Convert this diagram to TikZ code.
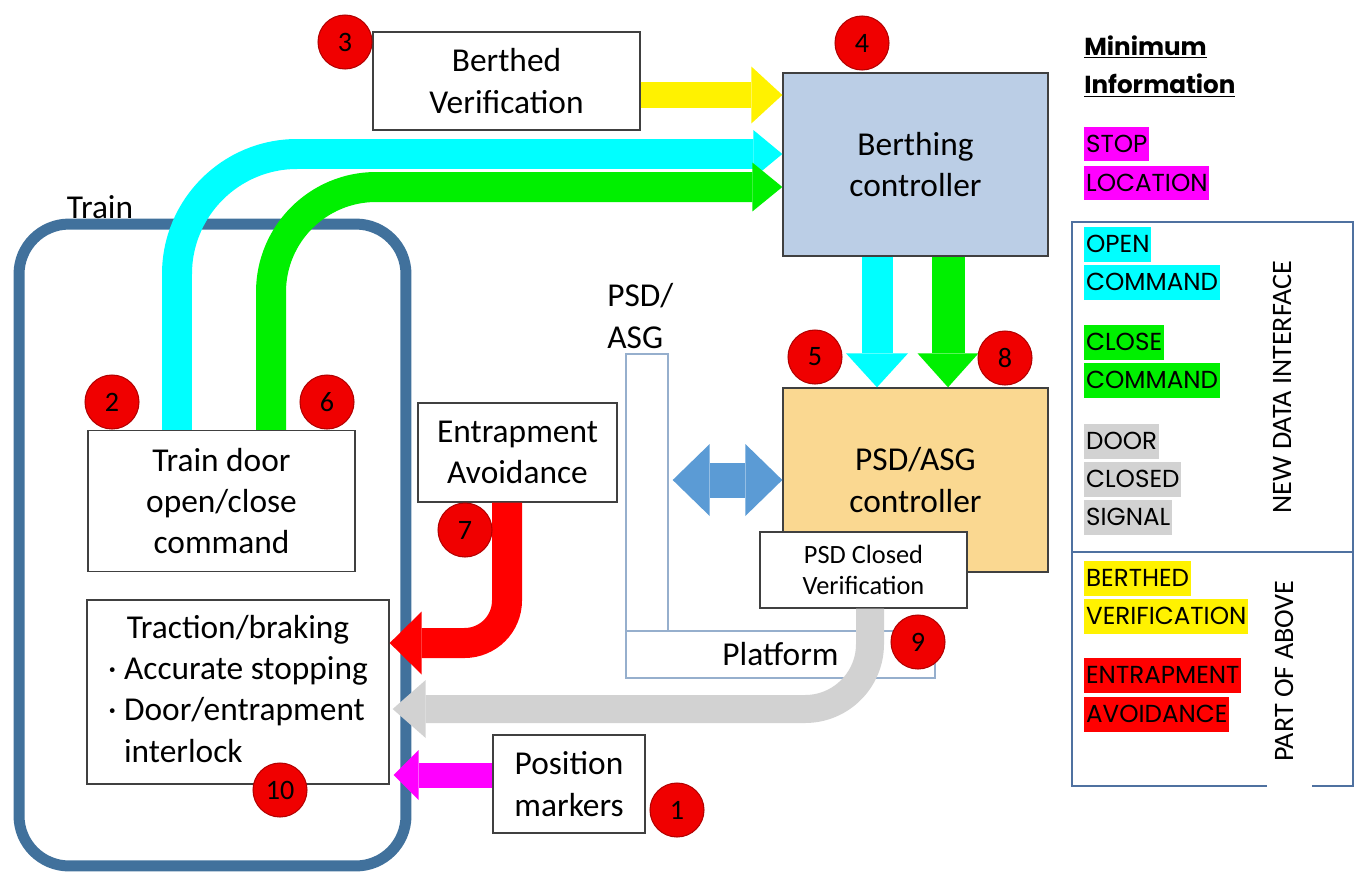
\documentclass[tikz,border=0pt]{standalone}
\usepackage{fontspec}
\setmainfont{Carlito}
\newfontfamily\legendfont{Poppins}
\usetikzlibrary{arrows.meta,calc}

\definecolor{trainblue}{RGB}{65,113,156}
\definecolor{boxline}{RGB}{64,64,64}
\definecolor{bcfill}{RGB}{187,206,230}
\definecolor{psdfill}{RGB}{250,216,145}
\definecolor{aqua}{RGB}{0,255,255}
\definecolor{lime}{RGB}{0,240,0}
\definecolor{stopmag}{RGB}{255,0,255}
\definecolor{signalgrey}{RGB}{210,210,210}
\definecolor{dblblue}{RGB}{91,155,213}
\definecolor{wallline}{RGB}{150,175,205}
\definecolor{legendline}{RGB}{79,113,160}
\definecolor{badgered}{RGB}{240,0,0}

\tikzset{
  box/.style={draw=boxline, line width=0.8pt, fill=white, inner sep=0pt, align=center,
    font=\fontsize{19}{23.5}\selectfont},
  badge/.style={circle, fill=badgered, draw=red!70!black, line width=0.6pt,
    minimum size=1.08cm, inner sep=0pt, font=\fontsize{16}{16}\selectfont},
  flow/.style={line width=#1, line cap=butt},
  hl/.style={anchor=west, inner xsep=1pt, inner ysep=0pt, minimum height=0.7cm,
    font=\legendfont\fontsize{14}{14}\selectfont},
  vlabel/.style={rotate=90, font=\fontsize{16}{16}\selectfont}
}

\begin{document}
\begin{tikzpicture}[x=0.02cm, y=-0.02cm]
\useasboundingbox (0,0) rectangle (1355,872);

% train
\node[draw=trainblue, line width=0.22cm, rounded corners=1cm, minimum width=7.74cm, minimum height=12.84cm] (train) at (212.5,545) {};
\node[font=\fontsize{19}{19}\selectfont] (trainname) at (100,207) {Train};

% platform and screen
\node[draw=wallline, line width=0.8pt, minimum width=0.84cm, minimum height=5.54cm] (wall) at (647,492.5) {};
\node[draw=wallline, line width=0.8pt, minimum width=6.18cm, minimum height=0.94cm, font=\fontsize{19}{19}\selectfont] (platform) at (780.5,654.5) {Platform};
\node[anchor=west, align=left, inner sep=0pt, font=\fontsize{19}{23.5}\selectfont] (wallname) at (607,316) {PSD/\\ASG};

% boxes
\node[box, minimum width=5.34cm, minimum height=1.96cm] (berthed) at (506.5,81) {Berthed\\Verification};
\node[box, fill=bcfill, minimum width=5.3cm, minimum height=3.66cm] (bc) at (915.5,164.5) {Berthing\\controller};
\node[box, fill=psdfill, minimum width=5.3cm, minimum height=3.68cm] (psdc) at (915.5,480) {PSD/ASG\\controller};
\node[box, minimum width=4.14cm, minimum height=1.52cm, font=\fontsize{15}{18}\selectfont] (closedver) at (863.5,570) {PSD Closed\\Verification};
\node[box, minimum width=5.34cm, minimum height=2.82cm] (door) at (221.5,501) {Train door\\open/close\\command};
\node[box, minimum width=6.04cm, minimum height=3.68cm] (traction) at (238,692)
  {\begin{tabular}{@{}l@{}}\multicolumn{1}{@{}c@{}}{Traction/braking}\\· Accurate stopping\\· Door/entrapment\\\phantom{· }interlock\end{tabular}};
\node[box, minimum width=3.98cm, minimum height=1.98cm] (entrap) at (517.5,452.5) {Entrapment\\Avoidance};
\node[box, minimum width=3.04cm, minimum height=1.96cm] (position) at (569,784) {Position\\markers};

% data flows
\draw[flow=0.52cm, yellow, -{Triangle[width=1.14cm, length=0.62cm, line width=0pt]}]
  (berthed.east |- 0,95) -- (bc.west |- 0,95);
\draw[flow=0.6cm, aqua, rounded corners=2.4cm, -{Triangle[width=0.96cm, length=0.58cm, line width=0pt]}]
  ($(door.north)+(-44.5,0)$) |- (bc.west |- 0,154);
\draw[flow=0.6cm, lime, rounded corners=2.1cm, -{Triangle[width=0.98cm, length=0.6cm, line width=0pt]}]
  ($(door.north)+(49.5,0)$) |- (bc.west |- 0,187);
\draw[flow=0.62cm, aqua, -{Triangle[width=1.24cm, length=0.68cm, line width=0pt]}]
  ($(bc.south)+(-38.5,0)$) -- ($(psdc.north)+(-38.5,0)$);
\draw[flow=0.66cm, lime, -{Triangle[width=1.22cm, length=0.68cm, line width=0pt]}]
  ($(bc.south)+(32.5,0)$) -- ($(psdc.north)+(32.5,0)$);
\draw[flow=0.7cm, dblblue, {Triangle[width=1.44cm, length=0.74cm, line width=0pt]}-{Triangle[width=1.44cm, length=0.74cm, line width=0pt]}]
  ($(wall.east |- psdc.west)+(4,0)$) -- (psdc.west);
\draw[flow=0.6cm, red, rounded corners=0.85cm, -{Triangle[width=1.26cm, length=0.64cm, line width=0pt]}]
  ($(entrap.south)+(-10.5,0)$) |- (traction.east |- 0,643);
\draw[flow=0.56cm, signalgrey, rounded corners=1.3cm, -{Triangle[width=1.16cm, length=0.66cm, line width=0pt]}]
  ($(closedver.south)+(6.5,0)$) |- ($(traction.east |- 0,709)+(3,0)$);
\draw[flow=0.5cm, stopmag, -{Triangle[width=1.0cm, length=0.5cm, line width=0pt]}]
  ($(position.west)+(0,-9)$) -- ($(traction.east |- 0,775)+(4,0)$);

% step numbers
\node[badge] (b1) at (677,810) {1};
\node[badge] (b2) at (112,402) {2};
\node[badge] (b3) at (345,42) {3};
\node[badge] (b4) at (862,43) {4};
\node[badge] (b5) at (815,357) {5};
\node[badge] (b6) at (327,402) {6};
\node[badge] (b7) at (465,530) {7};
\node[badge] (b8) at (1005,358) {8};
\node[badge] (b9) at (918,642) {9};
\node[badge] (b10) at (280,790) {10};

% legend
\node[anchor=west, inner xsep=0pt, font=\legendfont\bfseries\fontsize{14}{14}\selectfont] (mininfo1) at (1084,47) {\underline{Minimum}};
\node[anchor=west, inner xsep=0pt, font=\legendfont\bfseries\fontsize{14}{14}\selectfont] (mininfo2) at (1084,86) {\underline{Information}};
\foreach \n/\y/\c/\t in {stop/144/stopmag/STOP, loc/183/stopmag/LOCATION,
    open/244/aqua/OPEN, opencmd/282/aqua/COMMAND,
    close/342/lime/CLOSE, closecmd/380/lime/COMMAND,
    door1/441/signalgrey/DOOR, door2/479/signalgrey/CLOSED, door3/517/signalgrey/SIGNAL,
    bv1/578/yellow/BERTHED, bv2/616/yellow/VERIFICATION,
    ea1/675/red/ENTRAPMENT, ea2/714/red/AVOIDANCE}
  \node[hl, fill=\c] (\n) at (1084,\y) {\t};
\draw[legendline, line width=1.2pt] (1267,786) -- (1072,786) -- (1072,222) -- (1353,222) -- (1353,786) -- (1312,786);
\draw[legendline, line width=1.2pt] (1072,552) -- (1353,552);
\node[vlabel] (newif) at (1282,387) {NEW DATA INTERFACE};
\node[vlabel] (partof) at (1284,671) {PART OF ABOVE};
\end{tikzpicture}
\end{document}
